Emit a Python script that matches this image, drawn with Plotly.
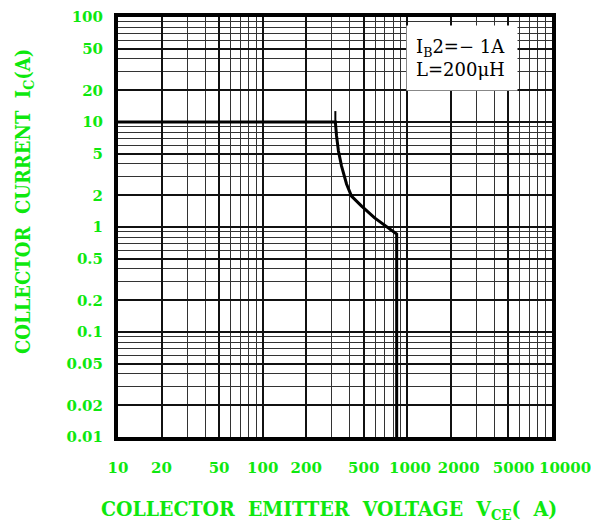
import plotly.graph_objects as go

# Data
vce = [10, 318, 324, 334, 351, 380, 411, 483, 594, 743, 844, 844]
ic = [10, 10, 7.4, 5.3, 3.8, 2.57, 1.97, 1.58, 1.22, 0.98, 0.857, 0.01]
tick_v = [318, 318]
tick_i = [10, 12.7]

x_ticks = [10, 20, 50, 100, 200, 500, 1000, 2000, 5000, 10000]
x_labels = ["10", "20", "50", "100", "200", "500", "\u00a01000",
            "\u00a0\u00a0\u00a02000", "\u00a0\u00a05000", "\u00a0\u00a0\u00a0\u00a0\u00a010000"]
y_ticks = [100, 50, 20, 10, 5, 2, 1, 0.5, 0.2, 0.1, 0.05, 0.02, 0.01]

GREEN = "#0ee80e"
TICKFONT = dict(family="DejaVu Serif", size=15, color=GREEN, weight="bold")
XTITLEFONT = dict(family="DejaVu Serif Condensed, DejaVu Serif", size=21, color=GREEN, weight="bold")
YTITLEFONT = dict(family="DejaVu Serif Condensed, DejaVu Serif", size=20, color=GREEN, weight="bold")

def minor_vals(lo, hi):
    vals = []
    d = lo
    while d < hi:
        for m in range(1, 10):
            vals.append(m * d)
        d *= 10
    vals.append(hi)
    return vals

# page body margin compensation
OFF = 7
W, H = 599 - OFF, 526 - OFF
L, R, T, B = 117 - OFF, 48, 16 - OFF, 90
PW, PH = W - L - R, H - T - B

def px(xp):
    return (xp - OFF - L) / PW

def py(yp):
    return (H - B - (yp - OFF)) / PH

fig = go.Figure()
fig.add_trace(go.Scatter(x=vce, y=ic, mode="lines",
                         line=dict(color="black", width=3), showlegend=False))
fig.add_trace(go.Scatter(x=tick_v, y=tick_i, mode="lines",
                         line=dict(color="black", width=2), showlegend=False))

fig.update_xaxes(type="log", range=[1, 4], automargin=False, tickangle=0,
                 tickvals=x_ticks, ticktext=x_labels, ticklabeloverflow="allow",
                 tickfont=TICKFONT, ticks="outside", ticklen=0, ticklabelstandoff=14,
                 showgrid=True, gridcolor="#111", gridwidth=2,
                 minor=dict(tickvals=minor_vals(10, 10000), showgrid=True,
                            gridcolor="#333", gridwidth=1.3),
                 showline=True, linecolor="black", linewidth=4, mirror=True,
                 zeroline=False)
fig.update_yaxes(type="log", range=[-2, 2], automargin=False,
                 tickvals=y_ticks, ticktext=[str(v) for v in y_ticks], ticklabeloverflow="allow",
                 tickfont=TICKFONT, ticks="outside", ticklen=0, ticklabelstandoff=8,
                 showgrid=True, gridcolor="#111", gridwidth=2,
                 minor=dict(tickvals=minor_vals(0.01, 100), showgrid=True,
                            gridcolor="#333", gridwidth=1.3),
                 showline=True, linecolor="black", linewidth=4, mirror=True,
                 zeroline=False)

fig.add_annotation(xref="paper", yref="paper", x=px(461), y=py(57),
                   xanchor="center", yanchor="middle",
                   text="I<sub>B</sub>2=\u2212 1A<br>L=200\u03bcH",
                   showarrow=False, align="left", bgcolor="white",
                   width=92, height=46, borderpad=9,
                   font=dict(family="DejaVu Serif", size=18, color="black"))

fig.add_annotation(xref="paper", yref="paper", x=px(328), y=py(508),
                   xanchor="center", yanchor="middle",
                   text="COLLECTOR\u00a0\u00a0EMITTER\u00a0\u00a0VOLTAGE\u00a0\u00a0V<sub>CE</sub>(\u00a0\u00a0A)",
                   showarrow=False, font=XTITLEFONT)
fig.add_annotation(xref="paper", yref="paper", x=px(23), y=py(201),
                   xanchor="center", yanchor="middle", textangle=-90,
                   text="COLLECTOR\u00a0\u00a0CURRENT\u00a0\u00a0I<sub>C</sub>(A)",
                   showarrow=False, font=YTITLEFONT)

fig.update_layout(width=W, height=H,
                  margin=dict(l=L, r=R, t=T, b=B),
                  paper_bgcolor="white", plot_bgcolor="white",
                  showlegend=False)

fig.write_html("out.html")
